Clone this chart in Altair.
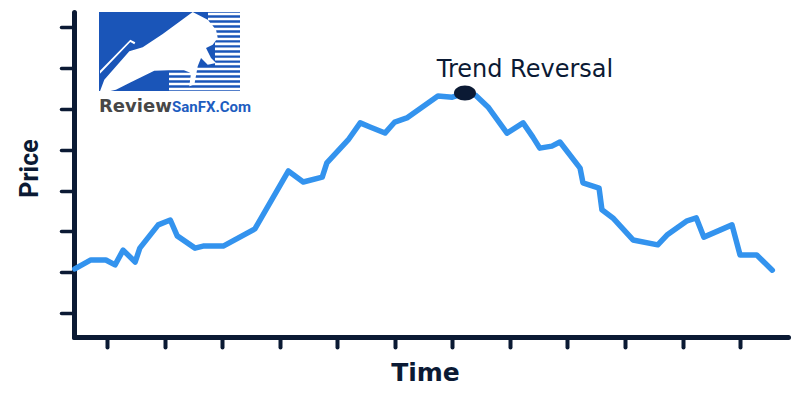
import altair as alt
import pandas as pd

# ---- data ----
time = [0.44, 0.72, 0.98, 1.14, 1.28, 1.49, 1.57, 1.89, 2.10, 2.22,
        2.53, 2.67, 3.02, 3.57, 4.15, 4.41, 4.74, 4.82, 5.19, 5.40,
        5.57, 5.83, 6.00, 6.21, 6.75, 7.00, 7.22, 7.40, 7.62, 7.95,
        8.23, 8.40, 8.52, 8.73, 8.87, 9.22, 9.27, 9.55, 9.60, 9.79,
        10.14, 10.57, 10.73, 11.08, 11.24, 11.37, 11.86, 12.00, 12.29, 12.56]
price = [2.08, 2.30, 2.30, 2.18, 2.54, 2.25, 2.59, 3.16, 3.28, 2.89,
         2.59, 2.64, 2.64, 3.06, 4.48, 4.21, 4.33, 4.68, 5.24, 5.66,
         5.56, 5.41, 5.68, 5.78, 6.32, 6.29, 6.39, 6.34, 6.05, 5.41,
         5.66, 5.31, 5.04, 5.09, 5.19, 4.55, 4.19, 4.06, 3.53, 3.33,
         2.79, 2.67, 2.91, 3.26, 3.33, 2.86, 3.16, 2.42, 2.42, 2.05]
x_ticks = list(range(1, 13))
y_ticks = list(range(1, 9))
annotation = "Trend Reversal"
x_title = "Time"
y_title = "Price"
logo_word1 = "Review"
logo_word2 = "SanFX.Com"

NAVY = "#0B1A34"
BLUE = "#3393EE"
LOGO_BLUE = "#1A55B8"

df = pd.DataFrame({"time": time, "price": price})
peak_i = max(range(len(price)), key=lambda i: price[i])
peak = df.iloc[[peak_i]]
one = pd.DataFrame({"a": [0]})

x_enc = alt.X("time:Q",
              scale=alt.Scale(domain=[0.4266, 12.833], nice=False, zero=False),
              axis=alt.Axis(values=x_ticks, labels=False, grid=False,
                            tickSize=10, tickWidth=4, tickCap="round", tickColor=NAVY,
                            domainWidth=5, domainCap="round", domainColor=NAVY,
                            title=x_title, titleFont="DejaVu Sans", titleFontSize=25,
                            titleFontWeight="bold", titleColor=NAVY,
                            titleX=351, titleY=43, titleBaseline="alphabetic",
                            titleAlign="center"))
y_enc = alt.Y("price:Q",
              scale=alt.Scale(domain=[0.4118, 8.377], nice=False, zero=False),
              axis=alt.Axis(values=y_ticks, labels=False, grid=False,
                            tickSize=13, tickWidth=3.5, tickCap="round", tickColor=NAVY,
                            domainWidth=5, domainCap="round", domainColor=NAVY,
                            title=y_title, titleFont="Roboto", titleFontSize=25,
                            titleFontWeight="bold", titleColor=NAVY,
                            titleX=-37, titleY=156, titleAngle=270,
                            titleBaseline="alphabetic", titleAlign="center"))

# ---- logo (decoration) ----
logo_rect = alt.Chart(one).mark_rect(color=LOGO_BLUE).encode(
    x=alt.value(25), x2=alt.value(166), y=alt.value(0), y2=alt.value(79))

bull = [(-0.986, 0.565), (-0.925, 0.401), (-0.570, -0.003), (-0.380, -0.059),
        (-0.096, -0.248), (0.329, -0.560), (0.542, -0.451), (0.660, -0.309),
        (0.684, -0.191), (0.613, -0.097), (0.518, -0.050), (0.589, 0.092),
        (0.660, 0.163), (0.542, 0.187), (0.447, 0.092), (0.400, 0.210),
        (0.352, 0.471), (0.281, 0.493), (0.305, 0.305), (0.187, 0.258),
        (-0.216, 0.272), (-0.570, 0.447), (-0.759, 0.542), (-0.854, 0.565)]
ridge = [(-0.986, 0.272), (-0.556, -0.167), (-0.485, -0.130), (-0.499, -0.102),
         (-0.556, -0.135), (-0.986, 0.315)]


def poly(pts):
    return "M" + " L".join(f"{a:.3f},{b:.3f}" for a, b in pts) + " Z"


path = poly(bull) + " " + poly(ridge)
CX, CY, H = 169.5, 51.5, 70.5
for k in range(16):
    yo = 14 + 5 * k
    xs = 208 if yo <= 40 else (215 if yo <= 66 else 169)
    x0 = (xs - CX) / H
    y0 = (yo - 1.35 - CY) / H
    y1 = (yo + 1.35 - CY) / H
    path += f" M{x0:.3f},{y0:.3f} H1 V{y1:.3f} H{x0:.3f} Z"

logo_shape = alt.Chart(one).mark_point(
    shape=path, size=141 * 141, filled=True, fill="white", opacity=1, strokeWidth=0
).encode(x=alt.value(95.5), y=alt.value(39.5))

logo_t1 = alt.Chart(one).mark_text(
    text=logo_word1, align="left", baseline="alphabetic", font="DejaVu Sans",
    fontSize=18, fontWeight="bold", color="#474747"
).encode(x=alt.value(25), y=alt.value(99.5))
logo_t2 = alt.Chart(one).mark_text(
    text=logo_word2, align="left", baseline="alphabetic",
    font="Roboto", fontSize=15, fontWeight="bold",
    color="#1D5DC0"
).encode(x=alt.value(98), y=alt.value(99.5))

# ---- data layers ----
line = alt.Chart(df).mark_line(
    color=BLUE, strokeWidth=5.5, strokeJoin="round", strokeCap="round"
).encode(x=x_enc, y=y_enc)

ellipse = "M-1,0 A1,0.68 0 1,0 1,0 A1,0.68 0 1,0 -1,0 Z"
dot = alt.Chart(peak).mark_point(
    shape=ellipse, size=484, filled=True, color=NAVY, opacity=1, strokeWidth=0
).encode(x="time:Q", y="price:Q")

label = alt.Chart(peak).mark_text(
    text=annotation, dx=60, dy=-16, align="center", baseline="alphabetic",
    font="DejaVu Sans", fontSize=24, color=NAVY
).encode(x="time:Q", y="price:Q")

chart = alt.layer(logo_rect, logo_shape, logo_t1, logo_t2, line, dot, label).properties(
    width=714, height=325,
    autosize=alt.AutoSizeParams(type="none"),
    padding={"left": 66, "top": 4, "right": 4, "bottom": 55},
    background="white",
).configure_view(stroke=None)

chart.save("out.html", embed_options={"renderer": "svg", "actions": False})
